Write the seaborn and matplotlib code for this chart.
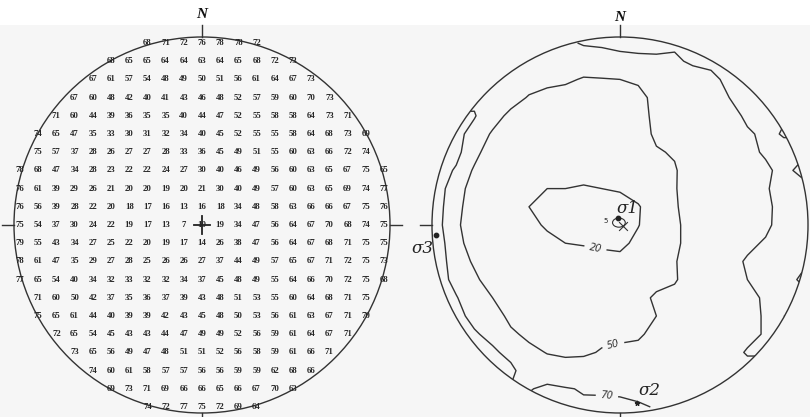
import numpy as np
import pandas as pd
import seaborn as sns
import matplotlib
matplotlib.use("Agg")
import matplotlib.pyplot as plt
from matplotlib.colors import ListedColormap
from matplotlib.patches import Circle, Rectangle, Ellipse

# counting-net values, one list per row (north -> south)
row_values = [
    [68, 71, 72, 76, 78, 78, 72],
    [68, 65, 65, 64, 64, 63, 64, 65, 68, 72, 73],
    [67, 61, 57, 54, 48, 49, 50, 51, 56, 61, 64, 67, 73],
    [67, 60, 48, 42, 40, 41, 43, 46, 48, 52, 57, 59, 60, 70, 73],
    [71, 60, 44, 39, 36, 35, 35, 40, 44, 47, 52, 55, 58, 58, 64, 73, 71],
    [74, 65, 47, 35, 33, 30, 31, 32, 34, 40, 45, 52, 55, 55, 58, 64, 68, 73, 69],
    [75, 57, 37, 28, 26, 27, 27, 28, 33, 36, 45, 49, 51, 55, 60, 63, 66, 72, 74],
    [78, 68, 47, 34, 28, 23, 22, 22, 24, 27, 30, 40, 46, 49, 56, 60, 63, 65, 67, 75, 65],
    [76, 61, 39, 29, 26, 21, 20, 20, 19, 20, 21, 30, 40, 49, 57, 60, 63, 65, 69, 74, 77],
    [76, 56, 39, 28, 22, 20, 18, 17, 16, 13, 16, 18, 34, 48, 58, 63, 66, 66, 67, 75, 76],
    [75, 54, 37, 30, 24, 22, 19, 17, 13, 7, 10, 19, 34, 47, 56, 64, 67, 70, 68, 74, 75],
    [79, 55, 43, 34, 27, 25, 22, 20, 19, 17, 14, 26, 38, 47, 56, 64, 67, 68, 71, 75, 75],
    [78, 61, 47, 35, 29, 27, 28, 25, 26, 26, 27, 37, 44, 49, 57, 65, 67, 71, 72, 75, 73],
    [77, 65, 54, 40, 34, 32, 33, 32, 32, 34, 37, 45, 48, 49, 55, 64, 66, 70, 72, 75, 68],
    [71, 60, 50, 42, 37, 35, 36, 37, 39, 43, 48, 51, 53, 55, 60, 64, 68, 71, 75],
    [75, 65, 61, 44, 40, 39, 39, 42, 43, 45, 48, 50, 53, 56, 61, 63, 67, 71, 70],
    [72, 65, 54, 45, 43, 43, 44, 47, 49, 49, 52, 56, 59, 61, 64, 67, 71],
    [73, 65, 56, 49, 47, 48, 51, 51, 52, 56, 58, 59, 61, 66, 71],
    [74, 60, 61, 58, 57, 57, 56, 56, 59, 59, 62, 68, 66],
    [69, 73, 71, 69, 66, 66, 65, 66, 67, 70, 63],
    [74, 72, 77, 75, 72, 69, 64],
]
# column where each row starts
row_start = [7, 5, 4, 3, 2, 1, 1, 0, 0, 0, 0, 0, 0, 0, 1, 1, 2, 3, 4, 5, 7]

contour_levels = [20, 50, 70]
contour_label_pos = [(9.13, 11.87), (10.12, 17.04), (9.79, 19.79)]

# principal stress axes, in net grid units
sigma_names = ["σ1", "σ2", "σ3"]
sigma_x = [10.39, 11.43, 0.39]
sigma_y = [10.12, 20.28, 11.05]
sigma_label_off = [(7, 7), (9, 9), (-10, -10)]

n = 21
grid = np.full((n, n), np.nan)
padded = np.zeros((n, n))
for i, (vals, s) in enumerate(zip(row_values, row_start)):
    grid[i, s:s + len(vals)] = vals
    # edge values carried out to the rim, only used for contouring
    padded[i] = vals[0]
    padded[i, s:s + len(vals)] = vals
    padded[i, s + len(vals):] = vals[-1]
df = pd.DataFrame(grid)

W, H = 810, 417
cell = 18.2          # px per grid cell
half = 11            # half extent of the axes in grid units
c = n / 2            # net centre
R = 10.33            # net radius in grid units
tick = 0.66
line_col = "#333333"

fig = plt.figure(figsize=(W / 100, H / 100), dpi=100, facecolor="#f6f6f6")
fig.add_artist(Rectangle((0, (H - 25) / H), 1, 25 / H, transform=fig.transFigure,
                         facecolor="white", edgecolor="none", zorder=-5))


def make_ax(cx, cy):
    size = 2 * half * cell
    return fig.add_axes([(cx - size / 2) / W, (H - cy - size / 2) / H, size / W, size / H])


def draw_net(ax, ticks, n_gap):
    ax.set_xlim(c - half, c + half)
    ax.set_ylim(c + half, c - half)
    ax.set_aspect("equal")
    ax.set_axis_off()
    rim = Circle((c, c), R, fill=False, ec=line_col, lw=1.0, clip_on=False)
    ax.add_patch(rim)
    for t in ticks:
        if t == "N":
            ax.plot([c, c], [c - R, c - R - tick], color=line_col, lw=1.0, clip_on=False)
        elif t == "S":
            ax.plot([c, c], [c + R, c + R + tick], color=line_col, lw=1.0, clip_on=False)
        elif t == "W":
            ax.plot([c - R, c - R - tick], [c, c], color=line_col, lw=1.0, clip_on=False)
        elif t == "E":
            ax.plot([c + R, c + R + tick], [c, c], color=line_col, lw=1.0, clip_on=False)
    ax.text(c, c - R - n_gap, "N", ha="center", va="center", fontsize=11,
            fontweight="bold", fontstyle="italic", family="Liberation Serif", color="#111")
    return rim


# left: counting net values
ax1 = make_ax(202, 225)
sns.heatmap(df, ax=ax1, annot=True, fmt=".0f", cbar=False,
            cmap=ListedColormap(["none"]), xticklabels=False, yticklabels=False,
            annot_kws={"fontsize": 6.3, "fontweight": "bold", "color": "#262626",
                       "family": "Liberation Serif"})
draw_net(ax1, ["N", "S", "W", "E"], 1.25)
ax1.plot([c, c], [c - 0.5, c + 0.5], color="#222", lw=1.3)
ax1.plot([c - 0.45, c + 0.45], [c, c], color="#222", lw=1.3)

# right: contoured net
ax2 = make_ax(620, 225)
draw_net(ax2, ["N", "S", "W"], 1.05)
xc = np.arange(n) + 0.5
cs = ax2.contour(xc, xc, padded, levels=contour_levels,
                 colors=line_col, linewidths=1.0)
labels = ax2.clabel(cs, fmt="%d", manual=contour_label_pos, inline=True, fontsize=7)
for t in labels:
    t.set_fontstyle("italic")
    t.set_family("DejaVu Sans")
clip = Circle((c, c), R, transform=ax2.transData)
cs.set_clip_path(clip)

for name, x, y, off in zip(sigma_names, sigma_x, sigma_y, sigma_label_off):
    ax2.scatter([x], [y], s=10, color="#222", marker="*" if name == "σ2" else "o",
                zorder=5, clip_on=False)
    ax2.annotate(name, (x, y), xytext=off, textcoords="offset points",
                 ha="center", va="center", fontsize=12, family="DejaVu Serif",
                 fontstyle="italic", color="#222", annotation_clip=False)

# small 5% loop around sigma 1
ax2.add_patch(Ellipse((sigma_x[0] + 0.05, sigma_y[0] + 0.25), 0.7, 0.5,
                      fill=False, ec=line_col, lw=0.8))
ax2.scatter([sigma_x[0] + 0.3], [sigma_y[0] + 0.45], s=40, marker="x",
            color=line_col, linewidths=0.8)
ax2.text(sigma_x[0] - 0.7, sigma_y[0] + 0.15, "5", fontsize=5, ha="center",
         va="center", color="#222")

fig.savefig("out.png", dpi=100, facecolor=fig.get_facecolor())
